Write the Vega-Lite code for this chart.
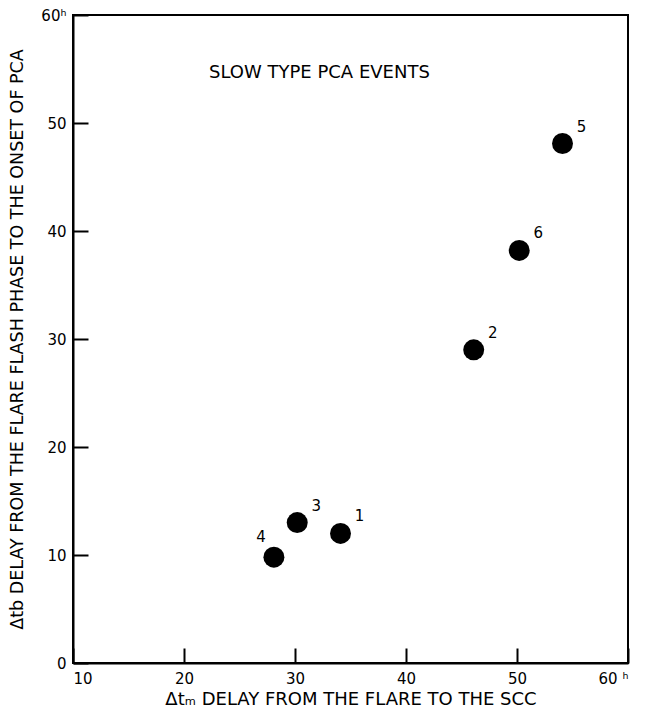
{
  "$schema": "https://vega.github.io/schema/vega-lite/v6.json",
  "width": 555,
  "height": 648,
  "autosize": {"type": "none"},
  "padding": {"left": 73, "top": 15, "right": 18, "bottom": 50},
  "background": "white",
  "config": {
    "font": "DejaVu Sans",
    "view": {"stroke": "black", "strokeWidth": 2},
    "axis": {
      "domainColor": "black", "domainWidth": 2, "grid": false, "ticks": true, "zindex": 1,
      "tickColor": "black", "tickWidth": 2, "tickSize": -15, "tickOpacity": 1,
      "labelColor": "black", "labelFontSize": 15, "labelFont": "DejaVu Sans",
      "titleColor": "black", "titleFont": "DejaVu Sans", "titleFontWeight": "normal"
    }
  },
  "datasets": {
    "events": [
      {"event": "1", "dtm": 34.1, "dtb": 12.0},
      {"event": "2", "dtm": 46.1, "dtb": 29.0},
      {"event": "3", "dtm": 30.2, "dtb": 13.0},
      {"event": "4", "dtm": 28.1, "dtb": 9.8},
      {"event": "5", "dtm": 54.1, "dtb": 48.1},
      {"event": "6", "dtm": 50.2, "dtb": 38.2}
    ],
    "note": [
      {"text": "SLOW TYPE PCA EVENTS", "dtm": 32.2, "dtb": 54.6}
    ]
  },
  "layer": [
    {
      "data": {"name": "events"},
      "mark": {"type": "circle", "size": 440, "color": "black", "opacity": 1},
      "encoding": {
        "x": {
          "field": "dtm", "type": "quantitative",
          "scale": {"domain": [10, 60], "nice": false, "zero": false},
          "axis": {
            "values": [10, 20, 30, 40, 50, 60],
            "tickSize": -15,
            "labelExpr": "datum.value == 60 ? '60 ʰ' : datum.label",
            "labelPadding": 23,
            "title": "Δtₘ DELAY FROM THE FLARE TO THE SCC",
            "titleFontSize": 18,
            "titlePadding": 4
          }
        },
        "y": {
          "field": "dtb", "type": "quantitative",
          "scale": {"domain": [0, 60], "nice": false},
          "axis": {
            "values": [0, 10, 20, 30, 40, 50, 60],
            "tickSize": -15,
            "labelExpr": "datum.value == 60 ? '60ʰ' : datum.label",
            "labelPadding": 22,
            "title": "Δtb DELAY FROM THE FLARE FLASH PHASE TO THE ONSET OF PCA",
            "titleFontSize": 17.5,
            "titlePadding": 14
          }
        }
      }
    },
    {
      "data": {"name": "events"},
      "transform": [{"filter": "datum.event != '4'"}],
      "mark": {"type": "text", "dx": 19, "dy": -17, "fontSize": 15, "color": "black", "font": "DejaVu Sans"},
      "encoding": {
        "x": {"field": "dtm", "type": "quantitative"},
        "y": {"field": "dtb", "type": "quantitative"},
        "text": {"field": "event"}
      }
    },
    {
      "data": {"name": "events"},
      "transform": [{"filter": "datum.event == '4'"}],
      "mark": {"type": "text", "dx": -13, "dy": -20, "fontSize": 15, "color": "black", "font": "DejaVu Sans"},
      "encoding": {
        "x": {"field": "dtm", "type": "quantitative"},
        "y": {"field": "dtb", "type": "quantitative"},
        "text": {"field": "event"}
      }
    },
    {
      "data": {"name": "note"},
      "mark": {"type": "text", "fontSize": 18, "color": "black", "font": "DejaVu Sans"},
      "encoding": {
        "x": {"field": "dtm", "type": "quantitative"},
        "y": {"field": "dtb", "type": "quantitative"},
        "text": {"field": "text"}
      }
    }
  ]
}
